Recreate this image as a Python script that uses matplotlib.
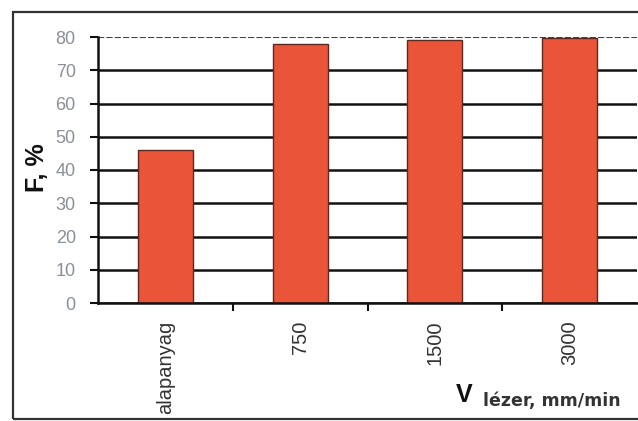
import matplotlib
matplotlib.use("Agg")
import matplotlib.pyplot as plt
from matplotlib.patches import Rectangle

categories = ["alapanyag", "750", "1500", "3000"]
values = [46, 78, 79, 79.7]
yticks = [0, 10, 20, 30, 40, 50, 60, 70, 80]

W, H = 638, 421
fig = plt.figure(figsize=(W / 100, H / 100), dpi=100)
fig.patch.set_facecolor("white")

# outer frame
fig.patches.append(Rectangle((13 / W, 1 - 419 / H), 640 / W, (419 - 12) / H,
                             transform=fig.transFigure, fill=False,
                             edgecolor="#333333", linewidth=1.6))

ax = fig.add_axes([98 / W, 1 - 303 / H, (637 - 98) / W, (303 - 37) / H])
x = list(range(len(categories)))
ax.set_axisbelow(True)
ax.yaxis.grid(True, color="#111111", linewidth=1.8)
ax.bar(x, values, width=0.41, color="#EA553A", edgecolor="#5a2a20", linewidth=1.0)

ax.set_xlim(-0.5, 3.5)
ax.set_ylim(0, 80)
ax.set_yticks(yticks)
ax.set_yticklabels([str(v) for v in yticks], fontsize=13, color="#8a9098",
                   family="Liberation Sans")
ax.tick_params(axis="y", length=6, width=1.5, color="#111111", pad=10)
gl = ax.get_ygridlines()
gl[-1].set_color("#444444")
gl[-1].set_linewidth(1.5)
gl[-1].set_linestyle((0, (3, 1)))

ax.set_xticks(x)
ax.set_xticklabels(categories, rotation=90, fontsize=14.5, color="#333333",
                   family="Liberation Sans")
ax.tick_params(axis="x", which="major", length=0, pad=12.5)
ax.set_xticks([0.5, 1.5, 2.5], minor=True)
ax.tick_params(axis="x", which="minor", length=6, width=1.5, color="#111111")

for s in ["top", "right"]:
    ax.spines[s].set_visible(False)
ax.spines["left"].set_linewidth(1.8)
ax.spines["left"].set_color("#111111")
ax.spines["bottom"].set_linewidth(1.8)
ax.spines["bottom"].set_color("#111111")

fig.text(37 / W, 1 - 168 / H, "F, %", rotation=90, fontsize=18, fontweight="bold",
         family="Liberation Sans", ha="center", va="center", color="#111111")
fig.text(456 / W, 1 - 395 / H, "V", fontsize=18, fontweight="bold",
         family="Liberation Sans", ha="left", va="center", color="#111111")
fig.text(483 / W, 1 - 401 / H, "lézer, mm/min", fontsize=12.5, fontweight="bold",
         ha="left", va="center", color="#333333")

fig.savefig("out.png", dpi=100)
